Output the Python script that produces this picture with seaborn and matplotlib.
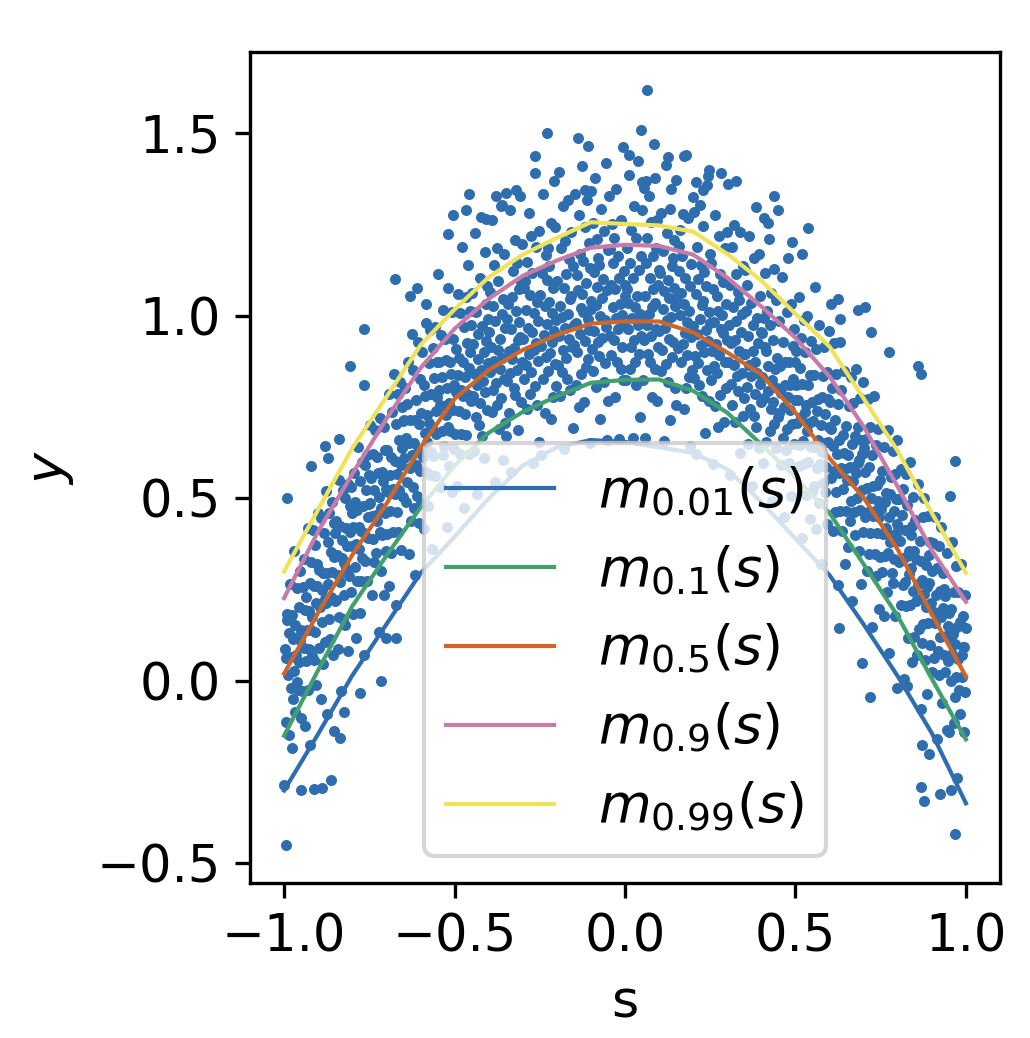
import numpy as np
import matplotlib
matplotlib.use("Agg")
import matplotlib.pyplot as plt
import seaborn as sns

# quantile curves m_tau(s) on a 0.1 grid
curve_s = [-1.0, -0.9, -0.8, -0.7, -0.6, -0.5, -0.4, -0.3, -0.2, -0.1, 0.0,
           0.1, 0.2, 0.3, 0.4, 0.5, 0.6, 0.7, 0.8, 0.9, 1.0]
m_001 = [-0.30, -0.145, 0.015, 0.155, 0.295, 0.395, 0.50, 0.59, 0.64, 0.66, 0.655,
         0.64, 0.625, 0.58, 0.49, 0.39, 0.29, 0.155, 0.013, -0.143, -0.335]
m_010 = [-0.15, 0.03, 0.205, 0.343, 0.475, 0.59, 0.68, 0.737, 0.78, 0.817, 0.825,
         0.826, 0.795, 0.735, 0.648, 0.557, 0.46, 0.32, 0.178, 0.006, -0.16]
m_050 = [0.02, 0.187, 0.345, 0.485, 0.64, 0.773, 0.852, 0.907, 0.948, 0.979, 0.985,
         0.985, 0.955, 0.90, 0.84, 0.735, 0.61, 0.502, 0.36, 0.183, 0.012]
m_090 = [0.227, 0.41, 0.567, 0.718, 0.857, 0.965, 1.047, 1.11, 1.152, 1.187, 1.195,
         1.192, 1.168, 1.105, 1.026, 0.94, 0.834, 0.697, 0.532, 0.358, 0.217]
m_099 = [0.30, 0.47, 0.638, 0.778, 0.92, 1.018, 1.106, 1.168, 1.214, 1.257, 1.252,
         1.248, 1.231, 1.17, 1.097, 1.006, 0.916, 0.774, 0.63, 0.46, 0.296]

quantile_labels = ["0.01", "0.1", "0.5", "0.9", "0.99"]
line_colors = ["#2f6eae", "#42a06f", "#cf6628", "#c77ba9", "#eee35b"]
point_color = "#2f6eae"

# observed (s, y) pairs, estimated from the picture strip by strip
points = [
    (-0.999, -0.285), (-0.995, 0.063), (-0.993, -0.113), (-0.990, 0.183), (-0.988, 0.017), (-0.986, 0.131),
    (-0.985, -0.148), (-0.983, 0.266), (-0.981, -0.02), (-0.980, 0.067), (-0.978, -0.184), (-0.976, 0.18),
    (-0.975, -0.048), (-0.973, 0.116), (-0.972, 0.028), (-0.970, 0.357), (-0.968, -0.084), (-0.967, 0.153),
    (-0.965, 0.072), (-0.963, 0.255), (-0.962, -0.003), (-0.960, 0.121), (-0.958, -0.025), (-0.957, 0.202),
    (-0.955, 0.051), (-0.954, 0.113), (-0.952, 0.302), (-0.951, -0.101), (-0.997, 0.089), (-0.991, 0.166),

    (-0.949, 0.14), (-0.947, -0.027), (-0.945, 0.257), (-0.943, 0.091), (-0.941, 0.335), (-0.940, -0.123),
    (-0.938, 0.195), (-0.936, 0.054), (-0.935, 0.231), (-0.933, 0.14), (-0.931, -0.026), (-0.930, 0.42),
    (-0.928, 0.089), (-0.926, 0.193), (-0.925, -0.175), (-0.923, 0.269), (-0.922, 0.141), (-0.920, 0.325),
    (-0.918, 0.068), (-0.917, 0.175), (-0.915, 0.414), (-0.913, 0.058), (-0.912, 0.26), (-0.910, 0.133),
    (-0.908, 0.372), (-0.907, -0.011), (-0.905, 0.213), (-0.904, 0.32), (-0.902, 0.259), (-0.901, 0.46),

    (-0.899, 0.091), (-0.897, 0.304), (-0.895, 0.203), (-0.893, -0.048), (-0.891, 0.446), (-0.890, 0.248),
    (-0.888, 0.161), (-0.886, 0.295), (-0.885, 0.047), (-0.883, 0.406), (-0.881, 0.225), (-0.880, 0.106),
    (-0.878, 0.52), (-0.876, 0.214), (-0.875, 0.296), (-0.873, -0.09), (-0.872, 0.382), (-0.870, 0.266),
    (-0.868, 0.169), (-0.867, 0.461), (-0.865, 0.115), (-0.863, 0.354), (-0.862, 0.231), (-0.860, 0.49),
    (-0.858, 0.298), (-0.857, 0.07), (-0.855, 0.434), (-0.854, 0.341), (-0.852, 0.22), (-0.851, 0.406),

    (-0.849, 0.439), (-0.847, 0.222), (-0.845, 0.345), (-0.843, 0.088), (-0.841, 0.291), (-0.840, 0.55),
    (-0.838, 0.175), (-0.836, 0.424), (-0.835, 0.27), (-0.833, -0.027), (-0.831, 0.386), (-0.830, 0.337),
    (-0.828, 0.17), (-0.826, 0.523), (-0.825, 0.235), (-0.823, 0.323), (-0.822, 0.50), (-0.820, 0.153),
    (-0.818, 0.42), (-0.817, 0.307), (-0.815, 0.37), (-0.813, 0.083), (-0.812, 0.54), (-0.810, 0.287),
    (-0.808, 0.48), (-0.807, 0.407), (-0.805, 0.245), (-0.804, 0.532), (-0.802, 0.37), (-0.801, 0.461),

    (-0.799, 0.184), (-0.797, 0.422), (-0.795, 0.57), (-0.793, 0.313), (-0.791, 0.491), (-0.790, 0.118),
    (-0.788, 0.375), (-0.786, 0.469), (-0.785, 0.275), (-0.783, 0.64), (-0.781, 0.361), (-0.780, 0.422),
    (-0.778, 0.185), (-0.776, 0.548), (-0.775, 0.41), (-0.773, 0.273), (-0.772, 0.60), (-0.770, 0.338),
    (-0.768, 0.48), (-0.767, 0.072), (-0.765, 0.405), (-0.763, 0.593), (-0.762, 0.33), (-0.760, 0.522),
    (-0.758, 0.275), (-0.757, 0.62), (-0.755, 0.45), (-0.754, 0.392), (-0.752, 0.565), (-0.751, 0.486),

    (-0.701, 0.526), (-0.702, 0.355), (-0.704, 0.632), (-0.705, 0.46), (-0.707, 0.697), (-0.708, 0.235),
    (-0.710, 0.547), (-0.712, 0.40), (-0.713, 0.573), (-0.715, 0.475), (-0.717, 0.302), (-0.718, 0.72),
    (-0.720, 0.408), (-0.722, 0.505), (-0.723, 0.133), (-0.725, 0.57), (-0.726, 0.438), (-0.728, 0.615),
    (-0.730, 0.352), (-0.731, 0.456), (-0.733, 0.688), (-0.735, 0.325), (-0.736, 0.524), (-0.738, 0.39),
    (-0.740, 0.623), (-0.741, 0.236), (-0.743, 0.453), (-0.745, 0.555), (-0.747, 0.487), (-0.749, 0.70),

    (-0.699, 0.402), (-0.697, 0.634), (-0.695, 0.517), (-0.693, 0.26), (-0.691, 0.787), (-0.690, 0.564),
    (-0.688, 0.466), (-0.686, 0.614), (-0.685, 0.35), (-0.683, 0.738), (-0.681, 0.526), (-0.680, 0.407),
    (-0.678, 0.84), (-0.676, 0.513), (-0.675, 0.604), (-0.673, 0.207), (-0.672, 0.703), (-0.670, 0.566),
    (-0.668, 0.463), (-0.667, 0.785), (-0.665, 0.408), (-0.663, 0.66), (-0.662, 0.522), (-0.660, 0.82),
    (-0.658, 0.592), (-0.657, 0.358), (-0.655, 0.751), (-0.654, 0.637), (-0.652, 0.505), (-0.651, 0.711),

    (-0.601, 0.826), (-0.602, 0.575), (-0.604, 0.703), (-0.605, 0.432), (-0.607, 0.63), (-0.608, 0.93),
    (-0.610, 0.506), (-0.612, 0.769), (-0.613, 0.593), (-0.615, 0.291), (-0.617, 0.714), (-0.618, 0.653),
    (-0.620, 0.475), (-0.622, 0.853), (-0.623, 0.532), (-0.625, 0.62), (-0.626, 0.95), (-0.628, 0.437),
    (-0.630, 0.715), (-0.631, 0.583), (-0.633, 0.651), (-0.635, 0.349), (-0.636, 0.873), (-0.638, 0.546),
    (-0.640, 0.759), (-0.641, 0.667), (-0.643, 0.49), (-0.645, 0.803), (-0.647, 0.611), (-0.649, 0.714),

    (-0.599, 0.487), (-0.597, 0.734), (-0.595, 0.901), (-0.593, 0.613), (-0.591, 0.81), (-0.590, 0.417),
    (-0.588, 0.679), (-0.586, 0.781), (-0.585, 0.572), (-0.583, 0.98), (-0.581, 0.656), (-0.580, 0.728),
    (-0.578, 0.48), (-0.576, 0.872), (-0.575, 0.708), (-0.573, 0.565), (-0.572, 0.961), (-0.570, 0.628),
    (-0.568, 0.786), (-0.567, 0.362), (-0.565, 0.694), (-0.563, 0.911), (-0.562, 0.617), (-0.560, 0.829),
    (-0.558, 0.562), (-0.557, 0.97), (-0.555, 0.74), (-0.554, 0.676), (-0.552, 0.873), (-0.551, 0.779),

    (-0.501, 0.811), (-0.502, 0.635), (-0.504, 0.938), (-0.505, 0.742), (-0.507, 1.01), (-0.508, 0.519),
    (-0.510, 0.841), (-0.512, 0.684), (-0.513, 0.873), (-0.515, 0.761), (-0.517, 0.589), (-0.518, 1.078),
    (-0.520, 0.695), (-0.522, 0.803), (-0.523, 0.422), (-0.525, 0.88), (-0.526, 0.729), (-0.528, 0.937),
    (-0.530, 0.645), (-0.531, 0.753), (-0.533, 1.016), (-0.535, 0.619), (-0.536, 0.833), (-0.538, 0.686),
    (-0.540, 0.949), (-0.541, 0.532), (-0.543, 0.755), (-0.545, 0.873), (-0.547, 0.796), (-0.549, 1.114),

    (-0.499, 0.677), (-0.497, 0.909), (-0.495, 0.791), (-0.493, 0.533), (-0.491, 1.06), (-0.490, 0.837),
    (-0.488, 0.739), (-0.486, 0.886), (-0.485, 0.622), (-0.483, 1.009), (-0.481, 0.796), (-0.480, 0.678),
    (-0.478, 1.19), (-0.476, 0.782), (-0.475, 0.873), (-0.473, 0.475), (-0.472, 0.971), (-0.470, 0.833),
    (-0.468, 0.731), (-0.467, 1.052), (-0.465, 0.674), (-0.463, 0.926), (-0.462, 0.787), (-0.460, 1.139),
    (-0.458, 0.857), (-0.457, 0.623), (-0.455, 1.015), (-0.454, 0.901), (-0.452, 0.768), (-0.451, 0.974),

    (-0.449, 1.062), (-0.447, 0.782), (-0.445, 0.922), (-0.443, 0.63), (-0.441, 0.842), (-0.440, 1.228),
    (-0.438, 0.722), (-0.436, 1.012), (-0.435, 0.812), (-0.433, 0.512), (-0.431, 0.952), (-0.430, 0.882),
    (-0.428, 0.702), (-0.426, 1.105), (-0.425, 0.762), (-0.423, 0.852), (-0.422, 1.27), (-0.420, 0.672),
    (-0.418, 0.972), (-0.417, 0.822), (-0.415, 0.902), (-0.413, 0.61), (-0.412, 1.175), (-0.410, 0.792),
    (-0.408, 1.032), (-0.407, 0.932), (-0.405, 0.742), (-0.404, 1.083), (-0.402, 0.872), (-0.401, 0.992),

    (-0.351, 0.706), (-0.352, 0.966), (-0.354, 1.17), (-0.355, 0.826), (-0.357, 1.046), (-0.358, 0.605),
    (-0.360, 0.886), (-0.362, 1.006), (-0.363, 0.776), (-0.365, 1.30), (-0.367, 0.856), (-0.368, 0.936),
    (-0.370, 0.69), (-0.372, 1.096), (-0.373, 0.906), (-0.375, 0.756), (-0.376, 1.185), (-0.378, 0.816),
    (-0.380, 0.986), (-0.381, 0.546), (-0.383, 0.876), (-0.385, 1.139), (-0.386, 0.796), (-0.388, 1.026),
    (-0.390, 0.736), (-0.391, 1.262), (-0.393, 0.916), (-0.395, 0.846), (-0.397, 1.066), (-0.399, 0.956),

    (-0.349, 0.672), (-0.347, 0.993), (-0.345, 0.823), (-0.343, 1.033), (-0.341, 0.903), (-0.340, 0.733),
    (-0.338, 1.29), (-0.336, 0.843), (-0.335, 0.963), (-0.333, 0.573), (-0.331, 1.053), (-0.330, 0.883),
    (-0.328, 1.123), (-0.326, 0.803), (-0.325, 0.913), (-0.323, 1.207), (-0.322, 0.783), (-0.320, 1.013),
    (-0.318, 0.853), (-0.317, 1.144), (-0.315, 0.688), (-0.313, 0.933), (-0.312, 1.073), (-0.310, 0.983),
    (-0.308, 1.33), (-0.307, 0.943), (-0.305, 0.763), (-0.304, 1.093), (-0.302, 0.873), (-0.301, 1.196),

    (-0.251, 0.655), (-0.252, 1.232), (-0.254, 0.987), (-0.255, 0.877), (-0.257, 1.037), (-0.258, 0.757),
    (-0.260, 1.19), (-0.262, 0.927), (-0.263, 0.807), (-0.265, 1.392), (-0.267, 0.907), (-0.268, 1.007),
    (-0.270, 0.597), (-0.272, 1.117), (-0.273, 0.957), (-0.275, 0.847), (-0.276, 1.22), (-0.278, 0.787),
    (-0.280, 1.057), (-0.281, 0.897), (-0.283, 1.281), (-0.285, 0.967), (-0.286, 0.744), (-0.288, 1.147),
    (-0.290, 1.017), (-0.291, 0.867), (-0.293, 1.097), (-0.295, 0.827), (-0.297, 1.077), (-0.299, 0.937),

    (-0.201, 0.988), (-0.202, 0.808), (-0.204, 1.245), (-0.205, 0.868), (-0.207, 0.958), (-0.208, 1.37),
    (-0.210, 0.778), (-0.212, 1.078), (-0.213, 0.928), (-0.215, 1.008), (-0.217, 0.717), (-0.218, 1.255),
    (-0.220, 0.898), (-0.222, 1.138), (-0.223, 1.038), (-0.225, 0.848), (-0.226, 1.186), (-0.228, 0.978),
    (-0.230, 1.098), (-0.231, 1.168), (-0.233, 0.888), (-0.235, 1.028), (-0.236, 0.733), (-0.238, 0.948),
    (-0.240, 1.335), (-0.241, 0.828), (-0.243, 1.118), (-0.245, 0.918), (-0.247, 0.618), (-0.249, 1.058),

    (-0.199, 1.096), (-0.197, 0.866), (-0.195, 1.395), (-0.193, 0.946), (-0.191, 1.026), (-0.190, 0.781),
    (-0.188, 1.186), (-0.186, 0.996), (-0.185, 0.846), (-0.183, 1.302), (-0.181, 0.906), (-0.180, 1.076),
    (-0.178, 0.636), (-0.176, 0.966), (-0.175, 1.206), (-0.173, 0.886), (-0.172, 1.116), (-0.170, 0.826),
    (-0.168, 1.318), (-0.167, 1.006), (-0.165, 0.936), (-0.163, 1.156), (-0.162, 1.046), (-0.160, 0.796),
    (-0.158, 1.056), (-0.157, 1.229), (-0.155, 0.916), (-0.154, 1.136), (-0.152, 0.694), (-0.151, 0.976),

    (-0.101, 1.041), (-0.102, 0.651), (-0.104, 1.131), (-0.105, 0.961), (-0.107, 1.201), (-0.108, 0.881),
    (-0.110, 0.991), (-0.112, 1.318), (-0.113, 0.861), (-0.115, 1.091), (-0.117, 0.931), (-0.118, 1.243),
    (-0.120, 0.765), (-0.122, 1.011), (-0.123, 1.151), (-0.125, 1.061), (-0.126, 1.412), (-0.128, 1.021),
    (-0.130, 0.841), (-0.131, 1.171), (-0.133, 0.951), (-0.135, 1.276), (-0.136, 0.752), (-0.138, 1.071),
    (-0.140, 0.901), (-0.141, 1.111), (-0.143, 0.981), (-0.145, 0.811), (-0.147, 1.334), (-0.149, 0.921),

    (-0.099, 1.02), (-0.097, 0.91), (-0.095, 1.256), (-0.093, 0.85), (-0.091, 1.12), (-0.090, 0.96),
    (-0.088, 1.378), (-0.086, 1.03), (-0.085, 0.806), (-0.083, 1.21), (-0.081, 1.08), (-0.080, 0.93),
    (-0.078, 1.16), (-0.076, 0.89), (-0.075, 1.14), (-0.073, 1.00), (-0.072, 0.718), (-0.070, 1.292),
    (-0.068, 1.05), (-0.067, 0.94), (-0.065, 1.10), (-0.063, 0.82), (-0.062, 1.232), (-0.060, 0.99),
    (-0.058, 0.87), (-0.057, 1.418), (-0.055, 0.97), (-0.054, 1.07), (-0.052, 0.66), (-0.051, 1.18),

    (-0.049, 0.768), (-0.047, 1.328), (-0.045, 0.944), (-0.043, 1.184), (-0.041, 1.084), (-0.040, 0.894),
    (-0.038, 1.252), (-0.036, 1.024), (-0.035, 1.144), (-0.033, 1.214), (-0.031, 0.934), (-0.030, 1.074),
    (-0.028, 0.777), (-0.026, 0.994), (-0.025, 1.347), (-0.023, 0.874), (-0.022, 1.164), (-0.020, 0.964),
    (-0.018, 0.664), (-0.017, 1.104), (-0.015, 1.034), (-0.013, 0.854), (-0.012, 1.262), (-0.010, 0.914),
    (-0.008, 1.004), (-0.007, 1.463), (-0.005, 0.824), (-0.004, 1.124), (-0.002, 0.974), (-0.001, 1.054),

    (0.049, 1.289), (0.048, 0.945), (0.046, 1.165), (0.045, 0.722), (0.043, 1.005), (0.042, 1.125),
    (0.040, 0.895), (0.038, 1.425), (0.037, 0.975), (0.035, 1.055), (0.033, 0.812), (0.032, 1.215),
    (0.030, 1.025), (0.028, 0.875), (0.027, 1.301), (0.025, 0.935), (0.024, 1.105), (0.022, 0.665),
    (0.020, 0.995), (0.019, 1.236), (0.017, 0.915), (0.015, 1.145), (0.014, 0.855), (0.012, 1.386),
    (0.010, 1.035), (0.009, 0.965), (0.007, 1.185), (0.005, 1.075), (0.003, 0.825), (0.001, 1.085),

    (0.051, 0.995), (0.053, 0.825), (0.055, 1.352), (0.057, 0.935), (0.059, 1.055), (0.060, 0.665),
    (0.062, 1.145), (0.064, 0.975), (0.065, 1.215), (0.067, 0.895), (0.069, 1.005), (0.070, 1.33),
    (0.072, 0.875), (0.074, 1.105), (0.075, 0.945), (0.077, 1.257), (0.078, 0.779), (0.080, 1.025),
    (0.082, 1.165), (0.083, 1.075), (0.085, 1.47), (0.087, 1.035), (0.088, 0.855), (0.090, 1.185),
    (0.092, 0.965), (0.093, 1.262), (0.095, 0.766), (0.096, 1.085), (0.098, 0.915), (0.099, 1.125),

    (0.149, 1.372), (0.148, 1.028), (0.146, 0.804), (0.145, 1.208), (0.143, 1.078), (0.142, 0.928),
    (0.140, 1.158), (0.138, 0.888), (0.137, 1.138), (0.135, 0.998), (0.133, 0.715), (0.132, 1.294),
    (0.130, 1.048), (0.128, 0.938), (0.127, 1.098), (0.125, 0.818), (0.124, 1.226), (0.122, 0.988),
    (0.120, 0.868), (0.119, 1.415), (0.117, 0.968), (0.115, 1.068), (0.114, 0.658), (0.112, 1.178),
    (0.110, 1.018), (0.109, 0.908), (0.107, 1.281), (0.105, 0.848), (0.103, 1.118), (0.101, 0.958),

    (0.199, 0.973), (0.198, 1.327), (0.196, 0.853), (0.195, 1.143), (0.193, 0.943), (0.192, 0.643),
    (0.190, 1.083), (0.188, 1.013), (0.187, 0.833), (0.185, 1.268), (0.183, 0.893), (0.182, 0.983),
    (0.180, 1.442), (0.178, 0.803), (0.177, 1.103), (0.175, 0.953), (0.174, 1.033), (0.172, 0.745),
    (0.170, 1.279), (0.169, 0.923), (0.167, 1.163), (0.165, 1.063), (0.164, 0.873), (0.162, 1.235),
    (0.160, 1.003), (0.159, 1.123), (0.157, 1.193), (0.155, 0.913), (0.153, 1.053), (0.151, 0.757),

    (0.201, 0.831), (0.203, 1.286), (0.205, 0.891), (0.207, 1.061), (0.209, 0.621), (0.210, 0.951),
    (0.212, 1.19), (0.214, 0.871), (0.215, 1.101), (0.217, 0.811), (0.219, 1.305), (0.220, 0.991),
    (0.222, 0.921), (0.224, 1.141), (0.225, 1.031), (0.227, 0.781), (0.228, 1.041), (0.230, 1.246),
    (0.232, 0.901), (0.233, 1.121), (0.235, 0.68), (0.237, 0.961), (0.238, 1.081), (0.240, 0.851),
    (0.242, 1.384), (0.243, 0.931), (0.245, 1.011), (0.246, 0.767), (0.248, 1.171), (0.249, 0.981),

    (0.299, 0.934), (0.298, 1.229), (0.296, 0.804), (0.295, 1.034), (0.293, 0.874), (0.292, 1.186),
    (0.290, 0.709), (0.288, 0.954), (0.287, 1.094), (0.285, 1.004), (0.283, 1.391), (0.282, 0.964),
    (0.280, 0.784), (0.278, 1.114), (0.277, 0.894), (0.275, 1.218), (0.274, 0.696), (0.272, 1.014),
    (0.270, 0.844), (0.269, 1.054), (0.267, 0.924), (0.265, 0.754), (0.264, 1.277), (0.262, 0.864),
    (0.260, 0.984), (0.259, 0.594), (0.257, 1.074), (0.255, 0.904), (0.253, 1.144), (0.251, 0.824),

    (0.301, 1.362), (0.303, 0.875), (0.305, 0.975), (0.307, 0.565), (0.309, 1.085), (0.310, 0.925),
    (0.312, 0.815), (0.314, 1.19), (0.315, 0.755), (0.317, 1.025), (0.319, 0.865), (0.320, 1.248),
    (0.322, 0.935), (0.324, 0.71), (0.325, 1.115), (0.327, 0.985), (0.328, 0.835), (0.330, 1.065),
    (0.332, 0.795), (0.333, 1.045), (0.335, 0.905), (0.337, 0.624), (0.338, 1.231), (0.340, 0.955),
    (0.342, 0.845), (0.343, 1.005), (0.345, 0.725), (0.346, 1.136), (0.348, 0.895), (0.349, 0.775),

    (0.351, 1.127), (0.353, 0.895), (0.355, 1.015), (0.357, 1.085), (0.359, 0.805), (0.360, 0.945),
    (0.362, 0.65), (0.364, 0.865), (0.365, 1.219), (0.367, 0.745), (0.369, 1.035), (0.370, 0.835),
    (0.372, 0.535), (0.374, 0.975), (0.375, 0.905), (0.377, 0.725), (0.378, 1.16), (0.380, 0.785),
    (0.382, 0.875), (0.383, 1.298), (0.385, 0.695), (0.387, 0.995), (0.388, 0.845), (0.390, 0.925),
    (0.392, 0.637), (0.393, 1.171), (0.395, 0.815), (0.396, 1.055), (0.398, 0.955), (0.399, 0.765),

    (0.449, 0.724), (0.448, 1.29), (0.446, 0.804), (0.445, 0.884), (0.443, 0.639), (0.442, 1.044),
    (0.440, 0.854), (0.438, 0.704), (0.437, 1.128), (0.435, 0.764), (0.433, 0.934), (0.432, 0.494),
    (0.430, 0.824), (0.428, 1.062), (0.427, 0.744), (0.425, 0.974), (0.424, 0.684), (0.422, 1.21),
    (0.420, 0.864), (0.419, 0.794), (0.417, 1.014), (0.415, 0.904), (0.414, 0.654), (0.412, 0.914),
    (0.410, 1.118), (0.409, 0.774), (0.407, 0.994), (0.405, 0.596), (0.403, 0.834), (0.401, 0.954),

    (0.451, 0.987), (0.453, 0.735), (0.455, 0.863), (0.457, 0.591), (0.459, 0.789), (0.460, 1.107),
    (0.462, 0.665), (0.464, 0.928), (0.465, 0.752), (0.467, 0.45), (0.469, 0.873), (0.470, 0.811),
    (0.472, 0.634), (0.474, 1.012), (0.475, 0.691), (0.477, 0.779), (0.478, 1.158), (0.480, 0.596),
    (0.482, 0.873), (0.483, 0.742), (0.485, 0.81), (0.487, 0.508), (0.488, 1.032), (0.490, 0.705),
    (0.492, 0.917), (0.493, 0.826), (0.495, 0.649), (0.496, 0.963), (0.498, 0.771), (0.499, 0.875),

    (0.549, 0.518), (0.548, 0.764), (0.546, 0.931), (0.545, 0.642), (0.543, 0.839), (0.542, 0.445),
    (0.540, 0.708), (0.538, 0.81), (0.537, 0.601), (0.535, 1.00), (0.533, 0.685), (0.532, 0.756),
    (0.530, 0.509), (0.528, 0.901), (0.527, 0.737), (0.525, 0.594), (0.524, 0.99), (0.522, 0.657),
    (0.520, 0.814), (0.519, 0.391), (0.517, 0.723), (0.515, 0.94), (0.514, 0.646), (0.512, 0.858),
    (0.510, 0.59), (0.509, 1.052), (0.507, 0.769), (0.505, 0.706), (0.503, 0.903), (0.501, 0.81),

    (0.551, 0.712), (0.553, 0.535), (0.555, 0.838), (0.557, 0.641), (0.559, 0.909), (0.560, 0.417),
    (0.562, 0.74), (0.564, 0.583), (0.565, 0.772), (0.567, 0.66), (0.569, 0.488), (0.570, 0.976),
    (0.572, 0.594), (0.574, 0.702), (0.575, 0.321), (0.577, 0.779), (0.578, 0.628), (0.580, 0.836),
    (0.582, 0.543), (0.583, 0.652), (0.585, 0.915), (0.587, 0.518), (0.588, 0.732), (0.590, 0.585),
    (0.592, 0.847), (0.593, 0.431), (0.595, 0.654), (0.596, 0.773), (0.598, 0.696), (0.599, 0.96),

    (0.649, 0.467), (0.648, 0.698), (0.646, 0.58), (0.645, 0.321), (0.643, 0.848), (0.642, 0.624),
    (0.640, 0.527), (0.638, 0.674), (0.637, 0.41), (0.635, 0.797), (0.633, 0.584), (0.632, 0.465),
    (0.630, 0.93), (0.628, 0.57), (0.627, 0.661), (0.625, 0.263), (0.624, 0.759), (0.622, 0.621),
    (0.620, 0.518), (0.619, 0.84), (0.617, 0.462), (0.615, 0.714), (0.614, 0.575), (0.612, 0.927),
    (0.610, 0.644), (0.609, 0.411), (0.607, 0.803), (0.605, 0.69), (0.603, 0.557), (0.601, 0.764),

    (0.651, 0.551), (0.653, 0.619), (0.655, 0.366), (0.657, 0.753), (0.659, 0.586), (0.660, 0.439),
    (0.662, 0.832), (0.664, 0.494), (0.665, 0.648), (0.667, 0.22), (0.669, 0.547), (0.670, 0.761),
    (0.672, 0.463), (0.674, 0.67), (0.675, 0.399), (0.677, 0.856), (0.678, 0.57), (0.680, 0.502),
    (0.682, 0.695), (0.683, 0.598), (0.685, 0.355), (0.687, 0.605), (0.688, 0.775), (0.690, 0.469),
    (0.692, 0.661), (0.693, 0.265), (0.695, 0.522), (0.696, 0.621), (0.698, 0.408), (0.699, 0.82),

    (0.749, 0.341), (0.748, 0.552), (0.746, 0.45), (0.745, 0.197), (0.743, 0.69), (0.742, 0.492),
    (0.740, 0.405), (0.738, 0.537), (0.737, 0.289), (0.735, 0.647), (0.733, 0.465), (0.732, 0.347),
    (0.730, 0.78), (0.728, 0.452), (0.727, 0.534), (0.725, 0.147), (0.724, 0.619), (0.722, 0.502),
    (0.720, 0.405), (0.719, 0.696), (0.717, 0.349), (0.715, 0.587), (0.714, 0.463), (0.712, 0.772),
    (0.710, 0.529), (0.709, 0.301), (0.707, 0.664), (0.705, 0.572), (0.703, 0.45), (0.701, 0.638),

    (0.751, 0.472), (0.753, 0.299), (0.755, 0.576), (0.757, 0.403), (0.759, 0.64), (0.760, 0.178),
    (0.762, 0.491), (0.764, 0.342), (0.765, 0.516), (0.767, 0.418), (0.769, 0.245), (0.770, 0.689),
    (0.772, 0.351), (0.774, 0.448), (0.775, 0.076), (0.777, 0.513), (0.778, 0.381), (0.780, 0.558),
    (0.782, 0.296), (0.783, 0.399), (0.785, 0.631), (0.787, 0.268), (0.788, 0.466), (0.790, 0.334),
    (0.792, 0.566), (0.793, 0.179), (0.795, 0.396), (0.796, 0.499), (0.798, 0.431), (0.799, 0.66),

    (0.849, 0.12), (0.848, 0.356), (0.846, 0.504), (0.845, 0.246), (0.843, 0.424), (0.842, 0.051),
    (0.840, 0.309), (0.838, 0.401), (0.837, 0.208), (0.835, 0.60), (0.833, 0.294), (0.832, 0.356),
    (0.830, 0.118), (0.828, 0.481), (0.827, 0.343), (0.825, 0.206), (0.824, 0.568), (0.822, 0.271),
    (0.820, 0.414), (0.819, 0.005), (0.817, 0.338), (0.815, 0.526), (0.814, 0.262), (0.812, 0.456),
    (0.810, 0.208), (0.809, 0.58), (0.807, 0.383), (0.805, 0.326), (0.803, 0.499), (0.801, 0.422),

    (0.851, 0.442), (0.853, 0.219), (0.855, 0.335), (0.857, 0.071), (0.859, 0.267), (0.860, 0.54),
    (0.862, 0.142), (0.864, 0.383), (0.865, 0.226), (0.867, -0.078), (0.869, 0.328), (0.870, 0.277),
    (0.872, 0.103), (0.874, 0.449), (0.875, 0.157), (0.877, 0.238), (0.878, 0.50), (0.880, 0.057),
    (0.882, 0.319), (0.883, 0.202), (0.885, 0.258), (0.887, -0.036), (0.888, 0.452), (0.890, 0.159),
    (0.892, 0.345), (0.893, 0.268), (0.895, 0.099), (0.896, 0.382), (0.898, 0.213), (0.899, 0.302),

    (0.901, 0.025), (0.903, 0.377), (0.905, 0.188), (0.907, 0.064), (0.909, 0.45), (0.910, 0.158),
    (0.912, 0.235), (0.914, -0.159), (0.915, 0.309), (0.917, 0.185), (0.919, 0.081), (0.920, 0.37),
    (0.922, 0.016), (0.924, 0.247), (0.925, 0.12), (0.927, 0.421), (0.928, 0.174), (0.930, -0.06),
    (0.932, 0.297), (0.933, 0.20), (0.935, 0.071), (0.937, 0.252), (0.938, 0.025), (0.940, 0.232),
    (0.942, 0.123), (0.943, -0.134), (0.945, 0.352), (0.946, 0.15), (0.948, 0.056), (0.949, 0.185),

    (0.951, -0.14), (0.953, 0.112), (0.955, 0.198), (0.957, -0.001), (0.959, 0.38), (0.960, 0.073),
    (0.962, 0.13), (0.964, -0.114), (0.965, 0.244), (0.967, 0.10), (0.969, -0.044), (0.970, 0.315),
    (0.972, 0.011), (0.974, 0.147), (0.975, -0.265), (0.977, 0.061), (0.978, 0.244), (0.980, -0.025),
    (0.982, 0.162), (0.983, -0.09), (0.985, 0.321), (0.987, 0.072), (0.988, 0.01), (0.990, 0.177),
    (0.992, 0.093), (0.993, -0.139), (0.995, 0.092), (0.996, 0.235), (0.998, -0.029), (0.999, 0.145),
]

# isolated points read one by one (mostly the top outliers and the tails)
outliers = [
    (0.065, 1.62), (0.048, 1.509), (-0.228, 1.50), (-0.138, 1.487), (-0.11, 1.467), (-0.264, 1.438),
    (0.012, 1.44), (0.127, 1.435), (0.174, 1.438), (0.246, 1.40), (0.088, 1.377), (0.051, 1.366),
    (0.061, 1.369), (0.209, 1.367), (0.326, 1.37), (0.136, 1.347), (-0.118, 1.346), (-0.10, 1.342),
    (-0.348, 1.337), (-0.32, 1.346), (0.24, 1.36), (0.23, 1.344), (0.438, 1.33), (0.536, 1.241),
    (0.49, 1.202), (0.408, 1.268), (0.42, 1.255), (0.519, 1.17), (0.556, 1.079), (0.624, 1.047),
    (0.604, 1.033), (0.683, 1.016), (0.704, 1.025), (0.63, 0.993), (0.721, 0.957), (0.774, 0.902),
    (0.86, 0.864), (0.869, 0.842), (0.967, 0.604), (0.953, 0.508),
    (-0.457, 1.335), (-0.379, 1.33), (-0.36, 1.305), (-0.465, 1.29), (-0.504, 1.276), (-0.407, 1.266),
    (-0.518, 1.225), (-0.676, 1.10), (-0.609, 1.077), (-0.63, 1.054), (-0.584, 1.034), (-0.765, 0.964),
    (-0.806, 0.862), (-0.765, 0.81), (-0.84, 0.662), (-0.88, 0.643), (-0.92, 0.588), (-0.87, 0.61),
    (-0.994, -0.45), (-0.95, -0.299), (-0.913, -0.297), (-0.89, -0.292), (-0.863, -0.27), (-0.716, 0.0),
    (-0.776, -0.034), (-0.823, -0.084), (-0.853, -0.137), (-0.836, -0.157), (-0.70, 0.118), (-0.672, 0.118),
    (-0.99, 0.50),
    (0.967, -0.42), (0.868, -0.29), (0.877, -0.33), (0.925, -0.31), (0.957, -0.30), (0.872, -0.175),
    (0.891, -0.199), (0.718, -0.043), (0.696, 0.05), (0.628, 0.146), (0.797, -0.018), (0.826, -0.014),
]


def make_plot():
    obs = np.array(points + outliers)
    s_obs, y_obs = obs[:, 0], obs[:, 1]
    curves = [m_001, m_010, m_050, m_090, m_099]

    fig = plt.figure(figsize=(1030 / 300, 1038 / 300), dpi=300)
    ax = fig.add_axes([0.2427, 0.1493, 0.7282, 0.8007])

    sns.scatterplot(x=s_obs, y=y_obs, color=point_color, s=7, linewidth=0,
                    ax=ax, zorder=1, legend=False)
    for vals, tau, col in zip(curves, quantile_labels, line_colors):
        sns.lineplot(x=curve_s, y=vals, color=col, linewidth=1.0, ax=ax,
                     label=rf"$m_{{{tau}}}(s)$", zorder=2)

    ax.set_xticks([-1.0, -0.5, 0.0, 0.5, 1.0])
    ax.set_yticks([-0.5, 0.0, 0.5, 1.0, 1.5])
    ax.tick_params(labelsize=12.3)
    ax.set_xlabel("s", fontsize=12.6)
    ax.set_ylabel(r"$y$", fontsize=12.6, labelpad=5)
    ax.legend(loc="lower center", fontsize=13, labelspacing=0.46)

    fig.savefig("out.png", dpi=300)


make_plot()
